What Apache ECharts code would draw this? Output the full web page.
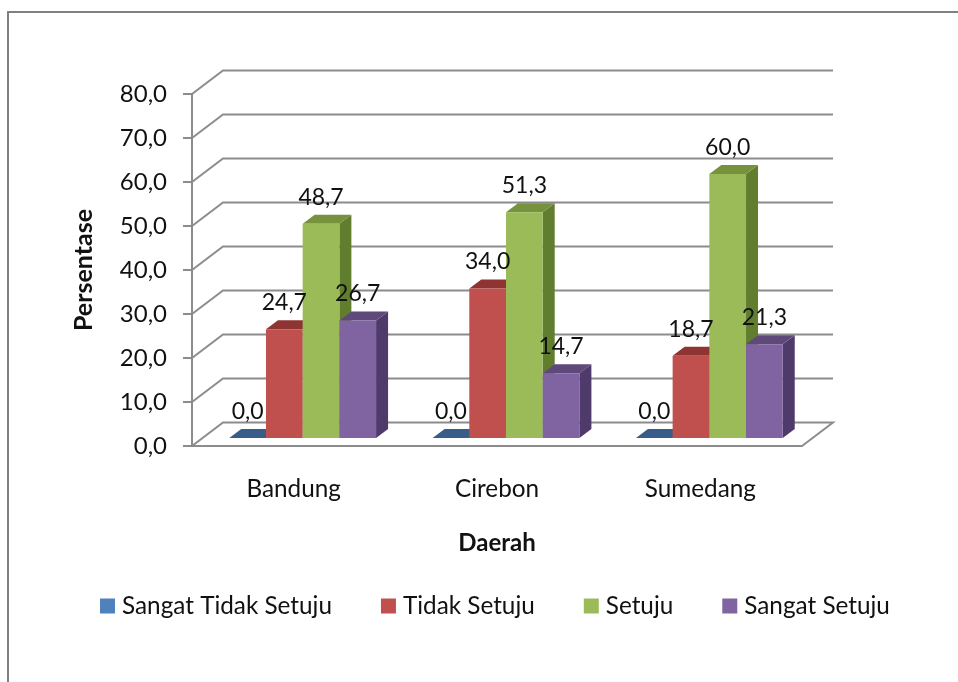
<!DOCTYPE html>
<html><head><meta charset="utf-8">
<style>html,body{margin:0;padding:0;background:#fff}#c{width:958px;height:682px}</style>
<script src="https://cdn.jsdelivr.net/npm/echarts@6/dist/echarts.min.js"></script>
</head><body><div id="c"></div>
<script>
const categories = ['Bandung', 'Cirebon', 'Sumedang'];
const sangatTidakSetuju = [0.0, 0.0, 0.0];
const tidakSetuju = [24.7, 34.0, 18.7];
const setuju = [48.7, 51.3, 60.0];
const sangatSetuju = [26.7, 14.7, 21.3];
const yTicks = [0, 10, 20, 30, 40, 50, 60, 70, 80];

const FONT = 'Lato, "Open Sans", sans-serif';
const fmt = v => v.toFixed(1).replace('.', ',');
const WALL = [31, -23.5], BAR_FRONT = [9, -8], BAR_DEPTH = [12, -9];
const BAR_FRAC = 0.1805;
const GREY = '#8c8c8c';

function barSeries(name, values, idx, colors) {
  return {
    name, type: 'custom', z: 3,
    itemStyle: { color: colors[0] },
    data: values.map((v, i) => [i, v]),
    encode: { x: 0, y: 1 },
    renderItem(params, api) {
      const p = api.coord([api.value(0), api.value(1)]);
      const base = api.coord([api.value(0), 0]);
      const w = api.size([1, 0])[0] * BAR_FRAC;
      const x0 = base[0] + BAR_FRONT[0] + (idx - 2) * w, x1 = x0 + w;
      const yt = p[1] + BAR_FRONT[1], yb = base[1] + BAR_FRONT[1];
      const [dx, dy] = BAR_DEPTH;
      const poly = (points, fill) => ({ type: 'polygon', shape: { points }, style: { fill } });
      return {
        type: 'group',
        children: [
          poly([[x1, yt], [x1 + dx, yt + dy], [x1 + dx, yb + dy], [x1, yb]], colors[2]),
          poly([[x0, yt], [x0 + dx, yt + dy], [x1 + dx, yt + dy], [x1, yt]], colors[1]),
          poly([[x0, yt], [x1, yt], [x1, yb], [x0, yb]], colors[0]),
          { type: 'text', z2: 100,
            style: { x: (x0 + x1) / 2, y: yt - 26.5, text: fmt(api.value(1)), align: 'center', verticalAlign: 'middle',
                     font: '23px ' + FONT, fill: '#111' } }
        ]
      };
    }
  };
}

const chart = echarts.init(document.getElementById('c'));
chart.setOption({
  animation: false,
  backgroundColor: '#fff',
  grid: { left: 192, right: 156, top: 94, bottom: 236 },
  xAxis: {
    type: 'category', data: categories,
    name: 'Daerah', nameLocation: 'middle', nameGap: 85,
    nameTextStyle: { fontFamily: FONT, fontSize: 24, fontWeight: 'bold', color: '#111' },
    axisLine: { lineStyle: { color: GREY, width: 2 } },
    axisTick: { length: 9, lineStyle: { color: GREY, width: 2 } },
    axisLabel: { fontFamily: FONT, fontSize: 24.3, color: '#111', margin: 31 }
  },
  yAxis: {
    type: 'value', min: 0, max: 80, interval: 10,
    name: 'Persentase', nameLocation: 'middle', nameGap: 96, nameRotate: 90,
    nameTextStyle: { fontFamily: FONT, fontSize: 25, fontWeight: 'bold', color: '#111' },
    axisLine: { show: true, lineStyle: { color: GREY, width: 2 } },
    axisTick: { show: true, length: 9, lineStyle: { color: GREY, width: 2 } },
    splitLine: { show: false },
    axisLabel: { fontFamily: FONT, fontSize: 24, color: '#111', margin: 25, padding: [3, 0, 0, 0], formatter: fmt }
  },
  legend: {
    left: 95, top: 589, itemWidth: 15, itemHeight: 15, itemGap: 49, icon: 'rect',
    data: ['Sangat Tidak Setuju', 'Tidak Setuju', 'Setuju', 'Sangat Setuju'],
    textStyle: { fontFamily: FONT, fontSize: 24.3, color: '#111', padding: [0, 0, 0, 2] }
  },
  graphic: [
    { type: 'polyline', shape: { points: [[8, 682], [8, 12], [958, 12]] }, style: { stroke: '#808080', lineWidth: 2, fill: null } }
  ],
  series: [
    {
      type: 'custom', z: 1, silent: true,
      data: yTicks.map(v => [0, v]),
      encode: { y: 1 },
      renderItem(params, api) {
        const y = api.coord([0, api.value(1)])[1];
        const r = params.coordSys;
        const pts = [[r.x, y], [r.x + WALL[0], y + WALL[1]], [r.x + r.width + WALL[0], y + WALL[1]]];
        if (api.value(1) === 0) pts.push([r.x + r.width, y]);
        return { type: 'polyline', shape: { points: pts }, style: { stroke: GREY, lineWidth: 2, fill: null } };
      }
    },
    barSeries('Sangat Tidak Setuju', sangatTidakSetuju, 0, ['#4F81BD', '#385D8A', '#2F4F75']),
    barSeries('Tidak Setuju', tidakSetuju, 1, ['#C0504D', '#8E3533', '#7A2E2C']),
    barSeries('Setuju', setuju, 2, ['#9BBB59', '#76923C', '#617D2E']),
    barSeries('Sangat Setuju', sangatSetuju, 3, ['#8064A2', '#5F497A', '#4F3B6B'])
  ]
});
</script></body></html>
